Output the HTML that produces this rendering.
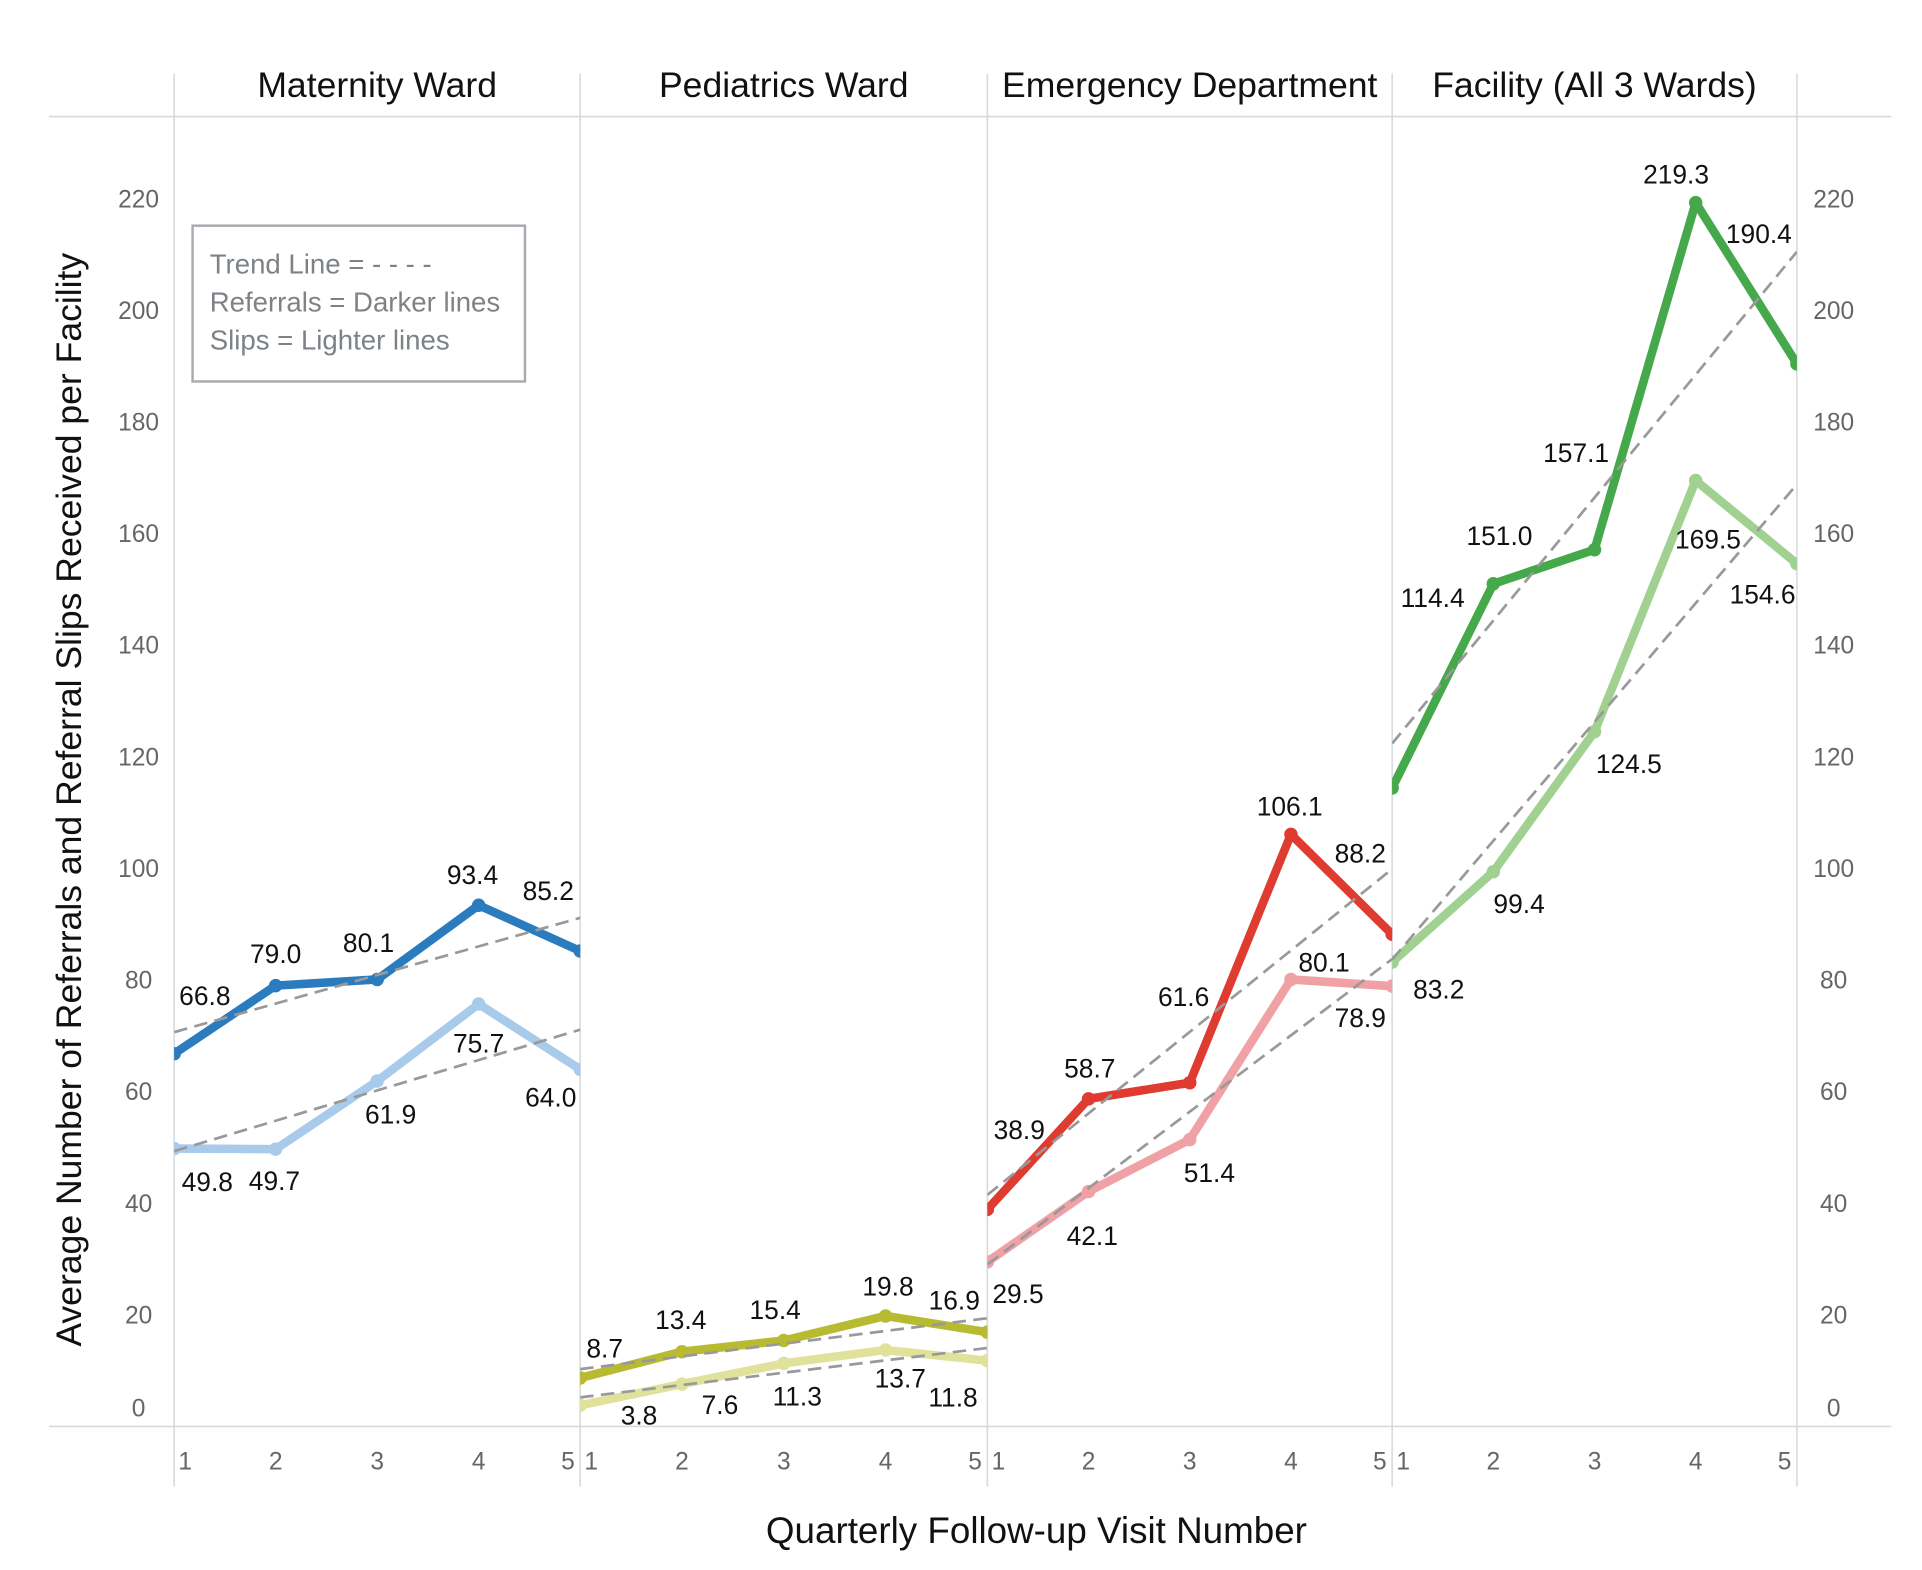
<!DOCTYPE html>
<html><head><meta charset="utf-8"><style>
html,body{margin:0;padding:0;background:#fff}
svg{display:block}
text{font-family:"Liberation Sans",sans-serif}
</style></head><body>
<svg id="chart" width="1922" height="1570" viewBox="0 0 1567 1280" xmlns="http://www.w3.org/2000/svg"></svg>
<script>
const panelNames = ["Maternity Ward","Pediatrics Ward","Emergency Department","Facility (All 3 Wards)"];
const visits = [1,2,3,4,5];
const referrals = [
  [66.8,79.0,80.1,93.4,85.2],
  [8.7,13.4,15.4,19.8,16.9],
  [38.9,58.7,61.6,106.1,88.2],
  [114.4,151.0,157.1,219.3,190.4]
];
const slips = [
  [49.8,49.7,61.9,75.7,64.0],
  [3.8,7.6,11.3,13.7,11.8],
  [29.5,42.1,51.4,80.1,78.9],
  [83.2,99.4,124.5,169.5,154.6]
];
const yTicks = [0,20,40,60,80,100,120,140,160,180,200,220];

const darkColors = ["#2b7bbf","#b8ba32","#e03b30","#45a84b"];
const lightColors = ["#a9cbeb","#e0e29c","#f0a1a6","#a1d191"];
const refOff = [
  [[25,-47],[0,-26],[-7,-30],[-5,-25],[-26,-49]],
  [[20,-24],[-1,-26],[-7,-25],[2,-24],[-27,-26]],
  [[26,-65],[1,-25],[-5,-70],[-1,-23],[-26,-66]],
  [[33,-155],[5,-39],[-15,-79],[-16,-23],[-31,-106]]
];
const slipOff = [
  [[27,27],[-1,26],[11,27],[0,32],[-24,23]],
  [[48,8],[31,17],[11,27],[12,23],[-28,30]],
  [[25,26],[3,36],[16,27],[27,-14],[-26,26]],
  [[38,22],[21,26],[28,26],[10,48],[-28,25]]
];

const NS="http://www.w3.org/2000/svg";
const svg=document.getElementById('chart');
const panelX=[142,473,805,1135,1465];
const yBase=1163, yPer=4.55;
function yScale(v){return yBase - v*yPer;}
function xScale(p,i){return panelX[p] + (i-1)*(panelX[p+1]-panelX[p])/4;}
function el(tag,attrs,parent){const e=document.createElementNS(NS,tag);for(const k in attrs)e.setAttribute(k,attrs[k]);(parent||svg).appendChild(e);return e;}
function txt(s,attrs,parent){const e=el('text',attrs,parent);e.textContent=s;return e;}

const defs=el('defs',{});
for(let p=0;p<4;p++){const cp=el('clipPath',{id:'clip'+p},defs);el('rect',{x:panelX[p],y:100,width:panelX[p+1]-panelX[p],height:1063},cp);}

let g=el('line',{x1:40,y1:95,x2:1542,y2:95,stroke:'#d6dadd','stroke-width':1.3});


g=el('line',{x1:40,y1:1163,x2:1542,y2:1163,stroke:'#d6dadd','stroke-width':1.3});


panelX.forEach((x,i)=>{
  const l=el('line',{x1:x,y1:60,x2:x,y2:1212,stroke:'#d6dadd','stroke-width':1.3});
  
  
});
panelNames.forEach((n,p)=>{
  const t=txt(n,{x:(panelX[p]+panelX[p+1])/2,y:79,'text-anchor':'middle','font-size':29,fill:'#111'});
  
  
});
yTicks.forEach(v=>{
  const yy = v===0 ? yScale(v)-8 : yScale(v)+7;
  let t=txt(String(v),{x:113,y:yy,'text-anchor':'middle','font-size':20,fill:'#666'});
  
  
  t=txt(String(v),{x:1495,y:yy,'text-anchor':'middle','font-size':20,fill:'#666'});
  
  
});
for(let p=0;p<4;p++){
  visits.forEach(v=>{
    let x=xScale(p,v);
    if(v===1)x+=9; if(v===5)x-=10;
    const t=txt(String(v),{x:x,y:1198,'text-anchor':'middle','font-size':20,fill:'#666'});
    
    
  });
}
let t=txt('Quarterly Follow-up Visit Number',{x:845,y:1258,'text-anchor':'middle','font-size':30,fill:'#111'});


t=txt('Average Number of Referrals and Referral Slips Received per Facility',{x:0,y:0,'text-anchor':'middle','font-size':29,fill:'#111',transform:'translate(66,652) rotate(-90)'});



const lg=el('g',{});


el('rect',{x:157,y:184,width:271,height:127,fill:'#fff',stroke:'#a8acb0','stroke-width':2},lg);
['Trend Line = - - - -','Referrals = Darker lines','Slips = Lighter lines'].forEach((s,i)=>{
  const e=txt(s,{x:171,y:223+i*31,'font-size':22.5,fill:'#7d8286'},lg);
  
  
});

function trend(vals){
  const n=vals.length;let mx=0,my=0;vals.forEach((v,i)=>{mx+=visits[i];my+=v});mx/=n;my/=n;
  let sxy=0,sxx=0;vals.forEach((v,i)=>{sxy+=(visits[i]-mx)*(v-my);sxx+=(visits[i]-mx)**2});
  const b=sxy/sxx;return x=>my+b*(x-mx);
}
function drawSeries(p,vals,color,offs,name){
  const grp=el('g',{'clip-path':'url(#clip'+p+')'});
  
  
  const pts=vals.map((v,i)=>xScale(p,visits[i])+','+yScale(v)).join(' ');
  const pl=el('polyline',{points:pts,fill:'none',stroke:color,'stroke-width':7,'stroke-linejoin':'round'},grp);
  
  
  vals.forEach((v,i)=>{
    const c=el('circle',{cx:xScale(p,visits[i]),cy:yScale(v),r:5.5,fill:color},grp);
    
    
  });
  const f=trend(vals);
  const tl=el('line',{x1:xScale(p,1),y1:yScale(f(1)),x2:xScale(p,5),y2:yScale(f(5)),stroke:'#999','stroke-width':2.2,'stroke-dasharray':'11 6'},grp);
  
  
  vals.forEach((v,i)=>{
    const lb=txt(v.toFixed(1),{x:xScale(p,visits[i])+offs[i][0],y:yScale(v)+offs[i][1]+7.5,'text-anchor':'middle','font-size':21.5,fill:'#111'});
    
    
  });
}
const keys=['maternity','pediatrics','emergency','facility'];
for(let p=0;p<4;p++){
  drawSeries(p,slips[p],lightColors[p],slipOff[p],keys[p]+'-slips');
  drawSeries(p,referrals[p],darkColors[p],refOff[p],keys[p]+'-referrals');
}
</script>
</body></html>
